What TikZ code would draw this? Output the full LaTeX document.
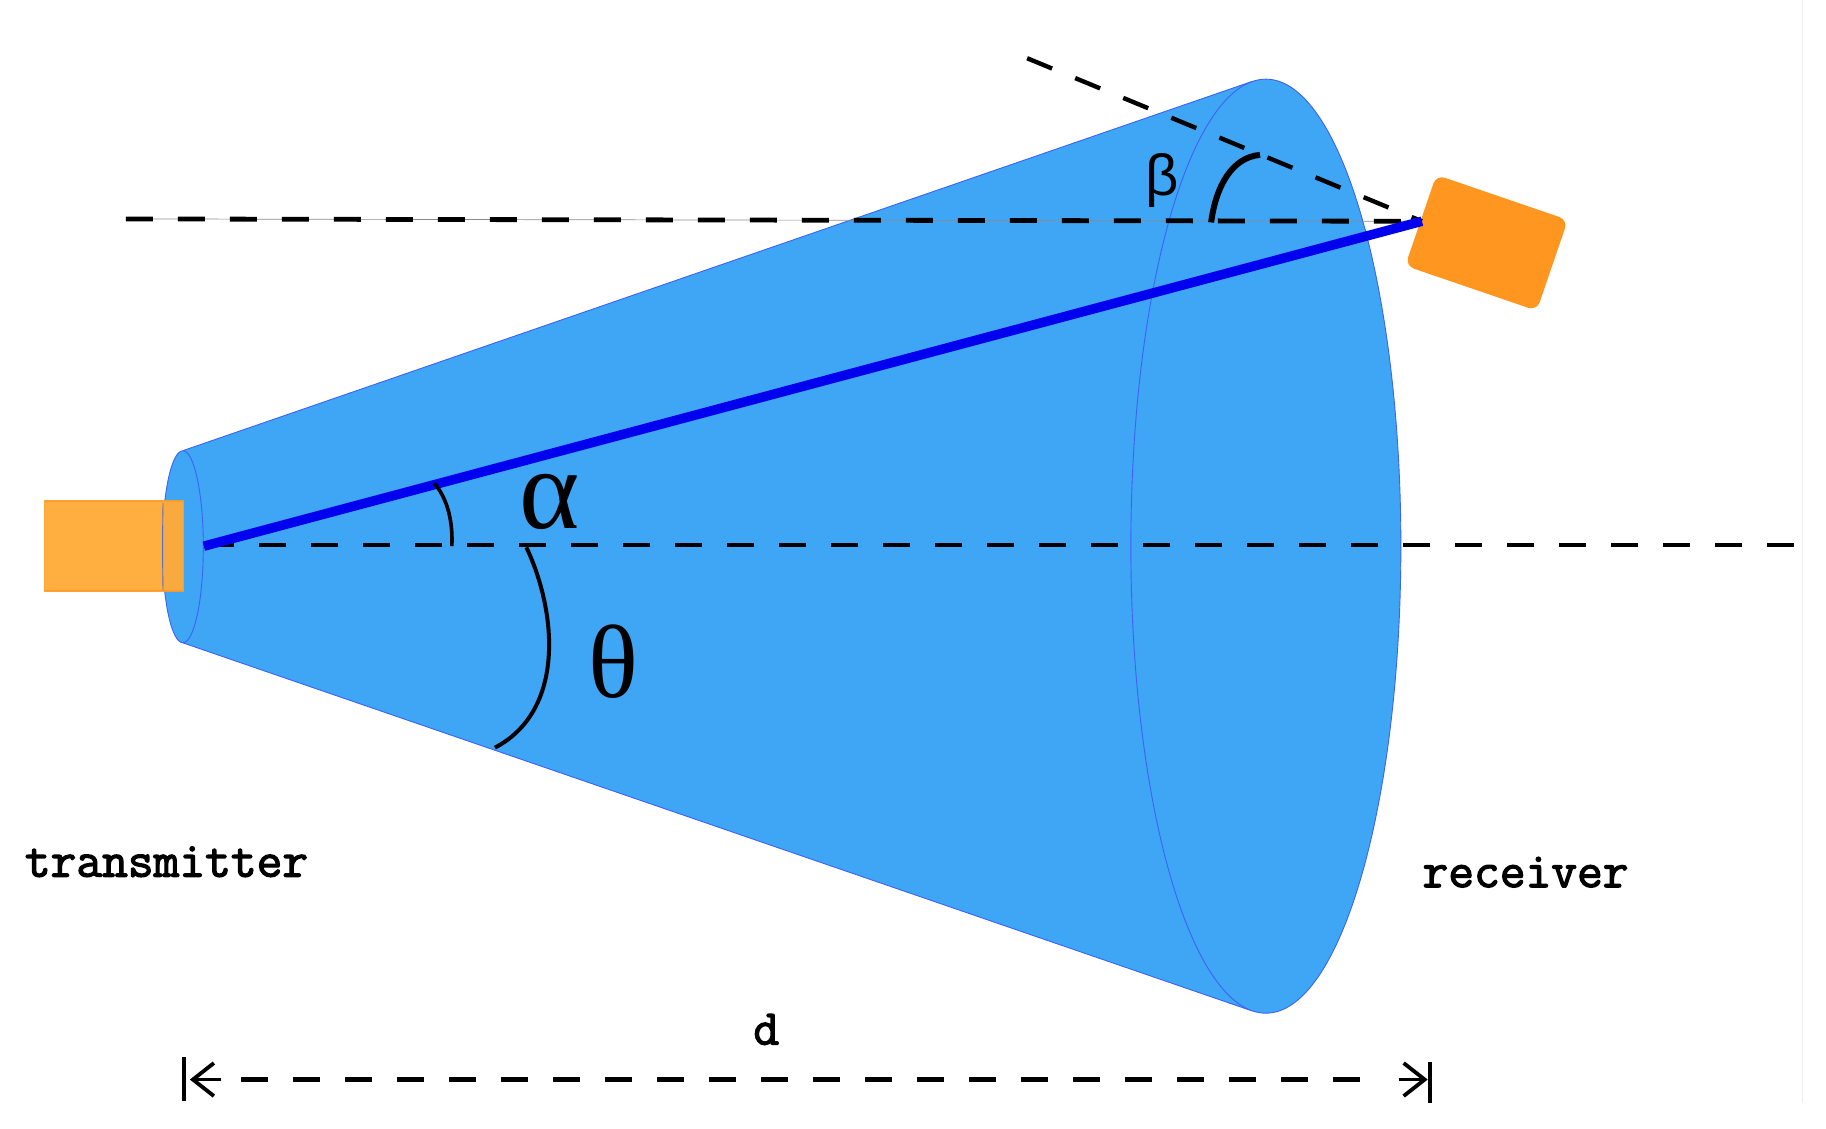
\documentclass[tikz,border=0pt]{standalone}
\usepackage{fontspec}
\usetikzlibrary{shapes.geometric,arrows.meta}
\newfontfamily\greekserif{Liberation Serif}
\newfontfamily\greeksans{Liberation Sans}
\newfontfamily\ttheavy[FakeBold=2.5]{Latin Modern Mono}
\definecolor{conefill}{HTML}{3FA5F5}
\definecolor{coneline}{HTML}{3D63F2}
\definecolor{beam}{HTML}{0000EE}
\definecolor{txfill}{HTML}{FFAB3A}
\definecolor{txline}{HTML}{FF9A22}
\definecolor{rxfill}{HTML}{FF9620}
\tikzset{
  disc/.style={draw=coneline,line width=0.9pt,fill=conefill,ellipse,inner sep=0pt},
  dashline/.style={draw=black,line width=4.8pt,dash pattern=on 27pt off 25pt},
  anglearc/.style={draw=black,line width=3.6pt},
  label/.style={inner sep=0pt,text=black},
  tt/.style={label,font=\fontsize{50}{54}\selectfont\ttheavy},
  dimtip/.style={-{Straight Barb[length=21pt,width=33pt,line width=3.8pt]}}
}
\begin{document}
\begin{tikzpicture}[x=1.1645pt,y=-1.1645pt]
\useasboundingbox (0,0) rectangle (1568,968.7);
% coordinates
\coordinate (conetopA) at (157,387);
\coordinate (conebotA) at (157,552);
\coordinate (conetopB) at (1075,70);
\coordinate (conebotB) at (1075,868);
\coordinate (beamstart) at (175,469);
\coordinate (rxpoint) at (1221,190);
\coordinate (axisend) at (1545,468);
\coordinate (axisstart) at (178,468);
\coordinate (horizend) at (108,188);
\coordinate (slantend) at (882,50);
\coordinate (dimL) at (163,927);
\coordinate (dimR) at (1226,927);
\coordinate (dimLs) at (190,927);
\coordinate (dimRs) at (1201,927);
\coordinate (dimdashA) at (207,927);
\coordinate (dimdashB) at (1188,927);
\coordinate (dimLt) at (158,908);
\coordinate (dimLb) at (158,945);
\coordinate (dimRt) at (1228,912);
\coordinate (dimRb) at (1228,947);
\coordinate (edgeT) at (1548,0);
\coordinate (edgeB) at (1548,947);
% faint right edge
\draw[black!7,line width=1.5pt] (edgeT) -- (edgeB);
% cone
\fill[conefill] (conetopA) -- (conetopB) -- (conebotB) -- (conebotA) -- cycle;
\draw[coneline,line width=0.9pt] (conetopA) -- (conetopB) (conebotA) -- (conebotB);
\node[disc,minimum width=270pt,minimum height=934pt] (bigdisc) at (1087,469) {};
\node[disc,minimum width=41pt,minimum height=192pt] (smalldisc) at (157,469.5) {};
% transmitter
\node[draw=txline,line width=1.6pt,fill=txfill,fill opacity=0.97,draw opacity=0.9,minimum width=139pt,minimum height=90pt,inner sep=0pt] (tx) at (98,469) {};
\draw[coneline!60!gray,line width=0.9pt] (140,432) .. controls (139.5,455) and (139.5,483) .. (140,507);
% receiver
\node[fill=rxfill,rounded corners=9pt,rotate=-18.9,minimum width=139pt,minimum height=96pt,inner sep=0pt] (rx) at (1276.5,208.5) {};
% reference lines
\draw[black!45,line width=0.7pt] (horizend) -- (rxpoint);
\draw[dashline] (horizend) -- (rxpoint);
\draw[dashline,line width=4.4pt] (slantend) -- (rxpoint);
\draw[dashline] (axisstart) -- (axisend);
% beam
\draw[beam,line width=9.5pt] (beamstart) -- (rxpoint);
% angle arcs
\draw[anglearc] (373,415) .. controls (384,428) and (389,447) .. (388,469);
\draw[anglearc,line width=4pt] (452,470) .. controls (478,525) and (486,610) .. (425,642);
\draw[anglearc,line width=6pt] (1040,191) .. controls (1044,160) and (1058,135) .. (1082,133);
% labels
\node[label,font=\fontsize{115}{120}\selectfont\greekserif] (alpha) at (472,431) {α};
\node[label,font=\fontsize{104}{110}\selectfont\greekserif] (theta) at (527,568) {θ};
\node[label,font=\fontsize{58}{60}\selectfont\greeksans] (betalabel) at (998,155) {β};
\node[tt] (txlabel) at (143,740) {transmitter};
\node[tt] (rxlabel) at (1310,749) {receiver};
\node[tt] (dlabel) at (658,884) {d};
% dimension
\draw[black,line width=3.8pt] (dimLt) -- (dimLb);
\draw[black,line width=3.8pt] (dimRt) -- (dimRb);
\draw[dashline] (dimdashA) -- (dimdashB);
\draw[dimtip,line width=3.8pt] (dimLs) -- (dimL);
\draw[dimtip,line width=3.8pt] (dimRs) -- (dimR);
\end{tikzpicture}
\end{document}
